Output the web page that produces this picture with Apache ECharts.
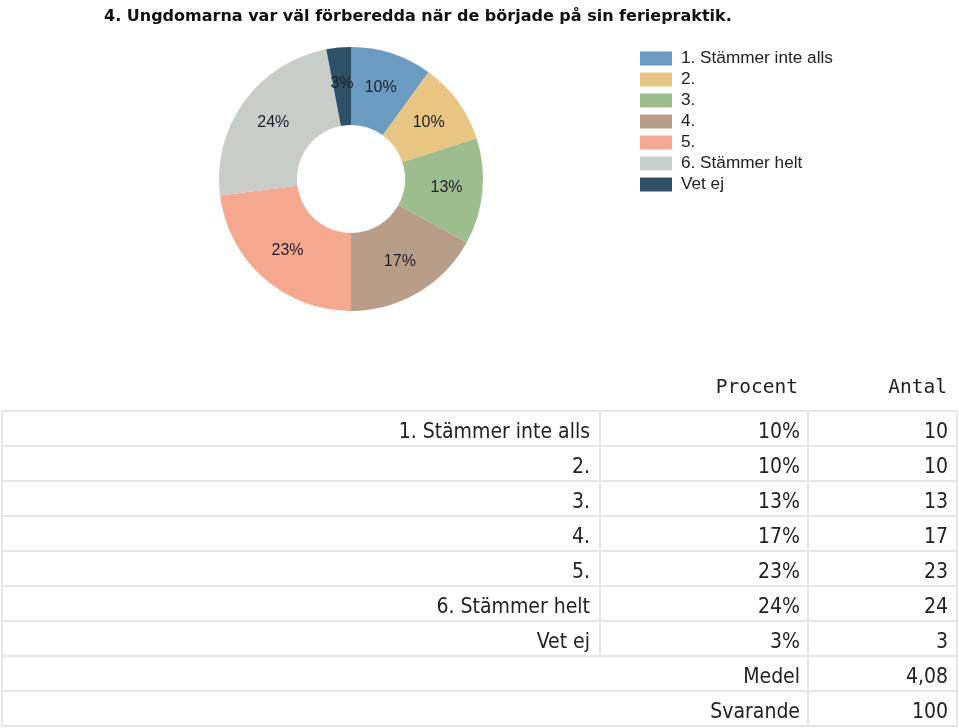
<!DOCTYPE html>
<html>
<head>
<meta charset="utf-8">
<script src="https://cdn.jsdelivr.net/npm/echarts@6/dist/echarts.min.js"></script>
<style>
  html, body { margin: 0; padding: 0; background: #fff; }
  #chart { width: 959px; height: 728px; }
</style>
</head>
<body>
<div id="chart"></div>
<script>
// svarsalternativ och antal svar
const categories = ['1. Stämmer inte alls', '2.', '3.', '4.', '5.', '6. Stämmer helt', 'Vet ej']
const counts = [10, 10, 13, 17, 23, 24, 3]
const percentLabels = ['10%', '10%', '13%', '17%', '23%', '24%', '3%']
const tableHeaders = ['Procent', 'Antal']
const summaryLabels = ['Medel', 'Svarande']
const summaryValues = ['4,08', '100']
const colors = ['#6c9bc2', '#e8c581', '#9dbd8e', '#b89e88', '#f6a790', '#c9cdca', '#2e5167']

let myChart = echarts.init(document.getElementById('chart'))

// tabellen ritas med graphic
const tableTop = 411
const rowH = 35
const colX = [2, 600, 808, 957]
const lineColor = '#e6e6e6'
const cellFont = '21px "DejaVu Sans Condensed", "DejaVu Sans", sans-serif'

function buildTable () {
  let els = []
  tableHeaders.forEach((h, i) => {
    els.push({
      type: 'text', x: i === 0 ? 798 : 947, y: 388,
      style: {text: h, font: '19.5px "DejaVu Sans Mono", monospace', fill: '#222', align: 'right', verticalAlign: 'middle'}
    })
  })
  let rows = categories.map((c, i) => [c, percentLabels[i], String(counts[i])])
  summaryLabels.forEach((s, i) => rows.push([null, s, summaryValues[i]]))
  const nRows = rows.length
  // horisontella linjer
  for (let r = 0; r <= nRows; r++) {
    els.push({
      type: 'line', silent: true,
      shape: {x1: colX[0], y1: tableTop + r * rowH, x2: colX[3], y2: tableTop + r * rowH},
      style: {stroke: lineColor, lineWidth: 2}
    })
  }
  rows.forEach((row, r) => {
    const y0 = tableTop + r * rowH
    // vertikala linjer
    colX.forEach((x, k) => {
      if (k === 1 && row[0] === null) return
      els.push({
        type: 'line', silent: true,
        shape: {x1: x, y1: y0, x2: x, y2: y0 + rowH},
        style: {stroke: lineColor, lineWidth: 2}
      })
    })
    const rightEdges = [590, 800, 948]
    row.forEach((txt, k) => {
      if (txt === null) return
      els.push({
        type: 'text', x: rightEdges[k], y: y0 + rowH / 2 + 4,
        style: {text: txt, font: cellFont, fill: '#222', align: 'right', verticalAlign: 'middle'}
      })
    })
  })
  return els
}

let option = {
  animation: false,
  color: colors,
  title: {
    text: '4. Ungdomarna var väl förberedda när de började på sin feriepraktik.',
    left: 99, top: 4,
    textStyle: {fontFamily: 'DejaVu Sans', fontWeight: 'bold', fontSize: 16, color: '#111'}
  },
  legend: {
    orient: 'vertical', left: 635, top: 45,
    itemWidth: 32, itemHeight: 14, itemGap: 4,
    icon: 'rect',
    textStyle: {fontFamily: 'Liberation Sans', fontSize: 17.2, color: '#222', lineHeight: 14, padding: [0, 0, 0, 4]},
    data: categories
  },
  series: [
    {
      type: 'pie',
      center: [351, 179],
      radius: [54, 132],
      startAngle: 90,
      clockwise: true,
      avoidLabelOverlap: false,
      emphasis: {disabled: true},
      label: {
        show: true, position: 'inside',
        fontFamily: 'Liberation Sans', fontSize: 16, color: '#1e1e2a',
        formatter: p => percentLabels[p.dataIndex]
      },
      labelLine: {show: false},
      data: categories.map((c, i) => ({name: c, value: counts[i]}))
    }
  ],
  graphic: buildTable()
}
myChart.setOption(option)
</script>
</body>
</html>
